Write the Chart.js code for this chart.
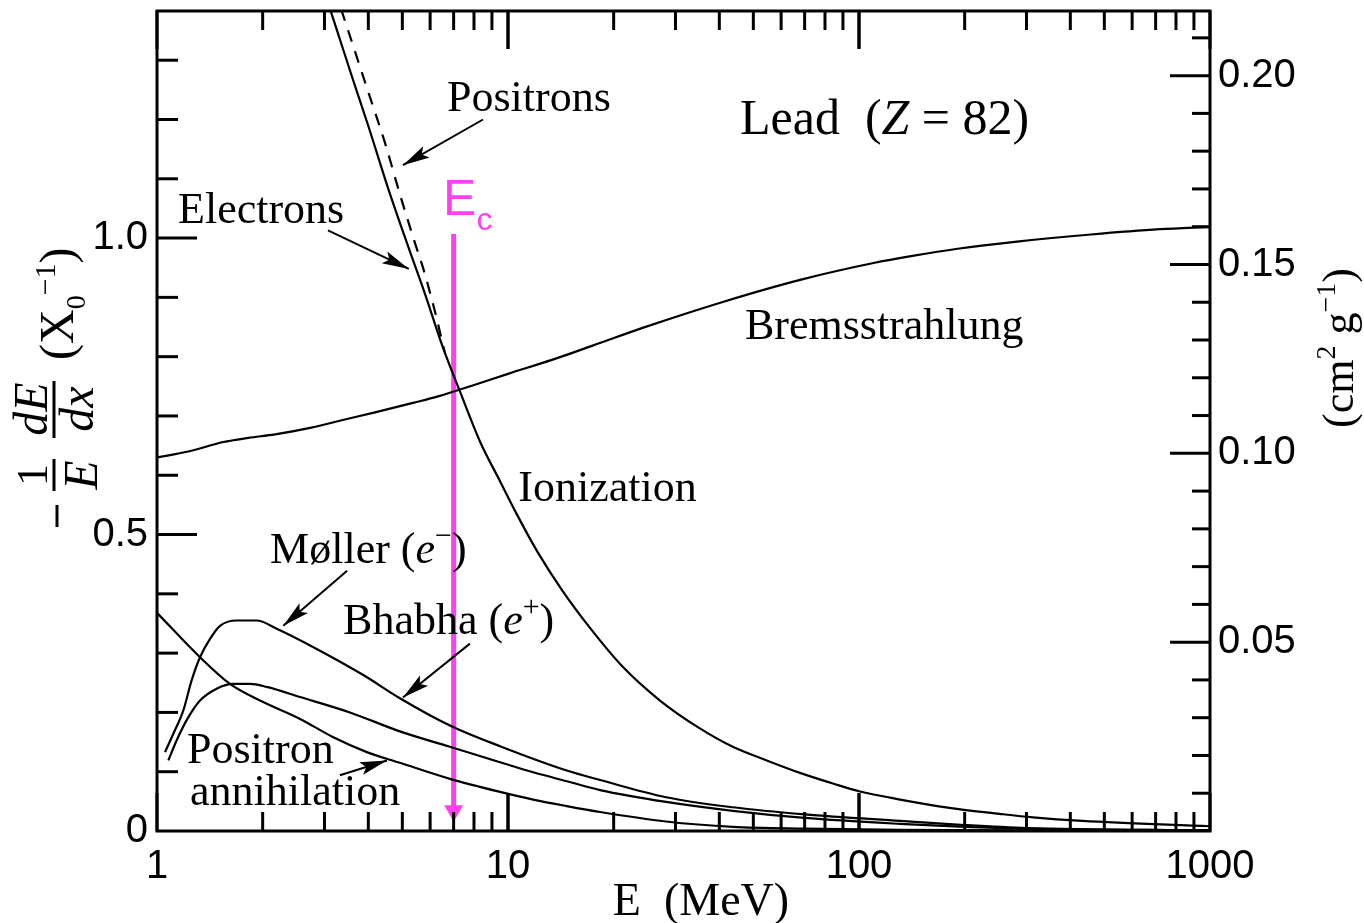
<!DOCTYPE html>
<html>
<head>
<meta charset="utf-8">
<script src="https://cdn.jsdelivr.net/npm/chart.js@4.4.1/dist/chart.umd.min.js"></script>
<style>
html, body { margin: 0; padding: 0; background: #fff; }
#wrap { width: 1364px; height: 923px; position: relative; }
</style>
</head>
<body>
<div id="wrap"><canvas id="lossChart"></canvas></div>
<script>
// fractional energy loss per radiation length in lead (E in MeV)
const bremsE    = [1, 1.228, 1.545, 1.82, 2.17, 2.73, 3.43, 4.18, 5.36, 6.32, 7.89, 10, 13.4, 17.5, 24.3, 41.8, 68.4, 110, 142, 191, 282, 458, 720, 1000];
const bremsLoss = [0.630, 0.640, 0.656, 0.663, 0.669, 0.680, 0.694, 0.706, 0.722, 0.733, 0.751, 0.771, 0.795, 0.819, 0.849, 0.894, 0.930, 0.958, 0.970, 0.982, 0.994, 1.006, 1.015, 1.019];

const ionElecE    = [3.0, 3.25, 3.59, 4.0, 4.56, 5.2, 5.8, 6.54, 7.3, 8.32, 9.49, 10.6, 12.1, 14.3, 17.1, 21.3, 27.1, 35.2, 43.7, 54.6, 67.9, 84.3, 100, 131, 181, 251, 313, 433, 1000];
const ionElecLoss = [1.415, 1.352, 1.273, 1.189, 1.083, 0.985, 0.906, 0.814, 0.741, 0.657, 0.590, 0.534, 0.472, 0.405, 0.343, 0.276, 0.220, 0.173, 0.142, 0.119, 0.098, 0.080, 0.067, 0.053, 0.039, 0.029, 0.023, 0.017, 0.008];

const ionPosE    = [3.2, 3.59, 4.0, 4.46, 4.92, 5.43, 5.74, 6.2, 6.6];
const ionPosLoss = [1.421, 1.331, 1.246, 1.161, 1.074, 0.992, 0.948, 0.875, 0.808];

const mollerE    = [1.054, 1.113, 1.188, 1.255, 1.326, 1.416, 1.512, 1.686, 1.923, 2.193, 2.85, 3.87, 4.92, 6.83, 9.49, 14.7, 18.3, 28.2, 43.7, 70, 131, 200, 300, 1000];
const mollerLoss = [0.133, 0.164, 0.203, 0.254, 0.293, 0.324, 0.346, 0.355, 0.355, 0.341, 0.307, 0.263, 0.224, 0.178, 0.143, 0.102, 0.086, 0.057, 0.040, 0.028, 0.017, 0.010, 0.005, 0.001];

const bhabhaE    = [1.077, 1.138, 1.215, 1.326, 1.479, 1.649, 1.841, 2.052, 2.556, 3.545, 4.92, 6.83, 9.49, 11.8, 14.7, 18.3, 28.2, 43.7, 70, 131, 200, 300, 1000];
const bhabhaLoss = [0.119, 0.153, 0.187, 0.220, 0.240, 0.248, 0.248, 0.243, 0.226, 0.200, 0.168, 0.142, 0.116, 0.099, 0.084, 0.069, 0.049, 0.034, 0.022, 0.012, 0.007, 0.004, 0.001];

const annihE    = [1, 1.326, 1.614, 1.965, 2.556, 3.18, 3.96, 4.92, 6.83, 9.49, 11.8, 14.7, 18.3, 28.2, 43.7, 70, 131, 300, 1000];
const annihLoss = [0.368, 0.293, 0.248, 0.220, 0.189, 0.158, 0.133, 0.115, 0.088, 0.066, 0.053, 0.042, 0.032, 0.016, 0.007, 0.004, 0.002, 0.001, 0.0005];

// critical energy marker
const ecE    = [7, 7];
const ecLoss = [1.007, 0.034];

// axes
const X0 = 6.37;          // g/cm^2 for lead, links the two y scales
const yMax = 1.383;
const xTicks  = [1, 10, 100, 1000];
const yTicks  = [0, 0.5, 1.0];
const y2Ticks = [0.05, 0.10, 0.15, 0.20];

const SERIF = '"Liberation Serif", "Times New Roman", serif';
const SANS = '"Liberation Sans", Arial, sans-serif';
const MAGENTA = '#ff40ee';

const pts = (xs, ys) => xs.map((x, i) => ({ x: x, y: ys[i] }));
const curve = (label, xs, ys, extra) => Object.assign({
    label: label, data: pts(xs, ys), borderColor: '#000', borderWidth: 2.2,
    pointRadius: 0, fill: false, cubicInterpolationMode: 'monotone'
}, extra || {});

// draws pieces of text one after the other: [text, font, dy]
function drawRuns(ctx, x, y, runs) {
    runs.forEach(r => {
        ctx.font = r[1];
        ctx.fillText(r[0], x, y + (r[2] || 0));
        x += ctx.measureText(r[0]).width;
    });
    return x;
}
function runsWidth(ctx, runs) {
    let w = 0;
    runs.forEach(r => { ctx.font = r[1]; w += ctx.measureText(r[0]).width; });
    return w;
}

// no extra label padding around the plot box
function fixAxis(size) {
    return s => {
        if (s.isHorizontal()) s.height = size; else s.width = size;
        s.paddingTop = 0; s.paddingBottom = 0; s.paddingLeft = 0; s.paddingRight = 0;
    };
}

const decorPlugin = {
    id: 'decor',
    afterDatasetsDraw(chart) {
        const { ctx, chartArea: a, scales } = chart;
        const sx = scales.x, sy = scales.y, sy2 = scales.y2;
        const P = (e, v) => [sx.getPixelForValue(e), sy.getPixelForValue(v)];
        ctx.save();
        ctx.strokeStyle = '#000'; ctx.fillStyle = '#000';

        // frame
        ctx.lineWidth = 3;
        ctx.strokeRect(a.left, a.top, a.right - a.left, a.bottom - a.top);

        const seg = (x1, y1, x2, y2) => { ctx.beginPath(); ctx.moveTo(x1, y1); ctx.lineTo(x2, y2); ctx.stroke(); };

        // inward ticks, top and bottom
        for (let d = 1; d < 1000; d *= 10) {
            for (let k = 1; k <= 10; k++) {
                const x = sx.getPixelForValue(d * k);
                const len = (k === 1 || k === 10) ? 38 : 19;
                seg(x, a.bottom, x, a.bottom - len);
                seg(x, a.top, x, a.top + len);
            }
        }
        // left ticks every 0.1, long at 0.5
        for (let i = 1; i <= 13; i++) {
            const y = sy.getPixelForValue(i / 10);
            seg(a.left, y, a.left + (i % 5 === 0 ? 40 : 21), y);
        }
        // right ticks every 0.01, long at 0.05
        for (let i = 1; i <= 21; i++) {
            const y = sy2.getPixelForValue(i / 100);
            seg(a.right, y, a.right - (i % 5 === 0 ? 40 : 18), y);
        }

        // pointer arrows [fromE, fromY, tipE, tipY]
        const arrows = [
            [8.49, 1.200, 5.02, 1.123],   // positrons
            [3.07, 1.013, 5.22, 0.948],   // electrons
            [3.48, 0.439, 2.29, 0.346],   // moller
            [7.79, 0.316, 5.02, 0.225],   // bhabha
            [3.32, 0.094, 4.52, 0.119]    // annihilation
        ];
        ctx.lineWidth = 2;
        arrows.forEach(r => {
            const [x1, y1] = P(r[0], r[1]);
            const [x2, y2] = P(r[2], r[3]);
            const ang = Math.atan2(y2 - y1, x2 - x1);
            seg(x1, y1, x2, y2);
            const L = 27, W = 6.5;
            ctx.beginPath();
            ctx.moveTo(x2, y2);
            ctx.lineTo(x2 - L * Math.cos(ang) + W * Math.sin(ang), y2 - L * Math.sin(ang) - W * Math.cos(ang));
            ctx.lineTo(x2 - L * 0.8 * Math.cos(ang), y2 - L * 0.8 * Math.sin(ang));
            ctx.lineTo(x2 - L * Math.cos(ang) - W * Math.sin(ang), y2 - L * Math.sin(ang) + W * Math.cos(ang));
            ctx.closePath();
            ctx.fill();
        });

        // curve labels
        ctx.textAlign = 'left'; ctx.textBaseline = 'alphabetic';
        const f = `44px ${SERIF}`, fi = `italic 44px ${SERIF}`, fs = `30px ${SERIF}`;
        const lab = (e, v, runs) => { const [x, y] = P(e, v); drawRuns(ctx, x, y, runs); };
        lab(6.70, 1.215, [['Positrons', f]]);
        lab(1.148, 1.025, [['Electrons', f]]);
        lab(45.8, 1.176, [['Lead  (', `50px ${SERIF}`], ['Z', `italic 50px ${SERIF}`], [' = 82)', `50px ${SERIF}`]]);
        lab(47.3, 0.830, [['Bremsstrahlung', f]]);
        lab(10.7, 0.556, [['Ionization', f]]);
        lab(2.10, 0.452, [['Møller (', f], ['e', fi], ['−', fs, -18], [')', f]]);
        lab(3.39, 0.333, [['Bhabha (', f], ['e', fi], ['+', fs, -18], [')', f]]);
        lab(1.217, 0.114, [['Positron', f]]);
        lab(1.242, 0.044, [['annihilation', f]]);

        // critical energy label
        ctx.fillStyle = MAGENTA;
        lab(6.53, 1.039, [['E', `50px ${SANS}`], ['c', `32px ${SANS}`, 15]]);
        ctx.fillStyle = '#000';

        // x title
        const xt = [['E  (MeV)', `46px ${SERIF}`]];
        drawRuns(ctx, 701 - runsWidth(ctx, xt) / 2, 915, xt);

        // left title, rotated
        ctx.save();
        ctx.translate(57, 386);
        ctx.rotate(-Math.PI / 2);
        ctx.lineWidth = 3;
        seg(-141, 0, -119, 0);
        ctx.textAlign = 'center';
        ctx.font = `44px ${SERIF}`; ctx.fillText('1', -89, -10);
        seg(-105, -3, -73, -3);
        ctx.font = `italic 48px ${SERIF}`; ctx.fillText('E', -89, 40);
        ctx.fillText('dE', -23, -10);
        seg(-52, -3, 5, -3);
        ctx.fillText('dx', -23, 36);
        ctx.textAlign = 'left';
        let u = drawRuns(ctx, 26, 16, [['(', `48px ${SERIF}`], ['X', `48px ${SERIF}`]]);
        u = drawRuns(ctx, u, 28, [['0', `28px ${SERIF}`]]);
        u = drawRuns(ctx, u, -2, [['−1', `30px ${SERIF}`]]);
        drawRuns(ctx, u, 16, [[')', `48px ${SERIF}`]]);
        ctx.restore();

        // right title, rotated
        ctx.save();
        ctx.translate(1340, 348);
        ctx.rotate(-Math.PI / 2);
        ctx.textAlign = 'left';
        const rt = [['(cm', `44px ${SERIF}`], ['2', `28px ${SERIF}`, -18], [' g', `44px ${SERIF}`], ['−1', `28px ${SERIF}`, -18], [')', `44px ${SERIF}`]];
        drawRuns(ctx, -runsWidth(ctx, rt) / 2, 13, rt);
        ctx.restore();

        ctx.restore();
    }
};

const tickFont = { family: SANS, size: 40 };

new Chart(document.getElementById('lossChart'), {
    type: 'line',
    data: {
        datasets: [
            curve('Bremsstrahlung', bremsE, bremsLoss),
            curve('Ionization (e-)', ionElecE, ionElecLoss),
            curve('Ionization (e+)', ionPosE, ionPosLoss, { borderDash: [12, 10] }),
            curve('Moller', mollerE, mollerLoss),
            curve('Bhabha', bhabhaE, bhabhaLoss),
            curve('Positron annihilation', annihE, annihLoss),
            {
                label: 'Ec', data: pts(ecE, ecLoss), borderColor: MAGENTA, borderWidth: 5,
                pointRadius: [0, 11], pointStyle: 'triangle', rotation: 180,
                pointBackgroundColor: MAGENTA, pointBorderWidth: 0, tension: 0, fill: false
            }
        ]
    },
    options: {
        responsive: true, maintainAspectRatio: false, animation: false, events: [],
        layout: { padding: { top: 8, left: 0, right: 0, bottom: 0 } },
        plugins: { legend: { display: false }, tooltip: { enabled: false } },
        scales: {
            x: {
                type: 'logarithmic', min: 1, max: 1000, position: 'bottom',
                afterBuildTicks: s => { s.ticks = xTicks.map(v => ({ value: v })); },
                afterFit: fixAxis(92),
                grid: { display: false, drawTicks: false }, border: { display: false },
                ticks: { padding: 12, autoSkip: false, maxRotation: 0, color: '#000', font: tickFont, callback: v => String(v) }
            },
            y: {
                type: 'linear', min: 0, max: yMax, position: 'left',
                afterBuildTicks: s => { s.ticks = yTicks.map(v => ({ value: v })); },
                afterFit: fixAxis(157),
                grid: { display: false, drawTicks: false }, border: { display: false },
                ticks: { padding: 9, color: '#000', font: tickFont, callback: v => v === 0 ? '0' : v.toFixed(1) }
            },
            y2: {
                type: 'linear', min: 0, max: yMax / X0, position: 'right',
                afterBuildTicks: s => { s.ticks = y2Ticks.map(v => ({ value: v })); },
                afterFit: fixAxis(154),
                grid: { display: false, drawTicks: false }, border: { display: false },
                ticks: { padding: 8, color: '#000', font: tickFont, callback: v => v.toFixed(2) }
            }
        }
    },
    plugins: [decorPlugin]
});
</script>
</body>
</html>
